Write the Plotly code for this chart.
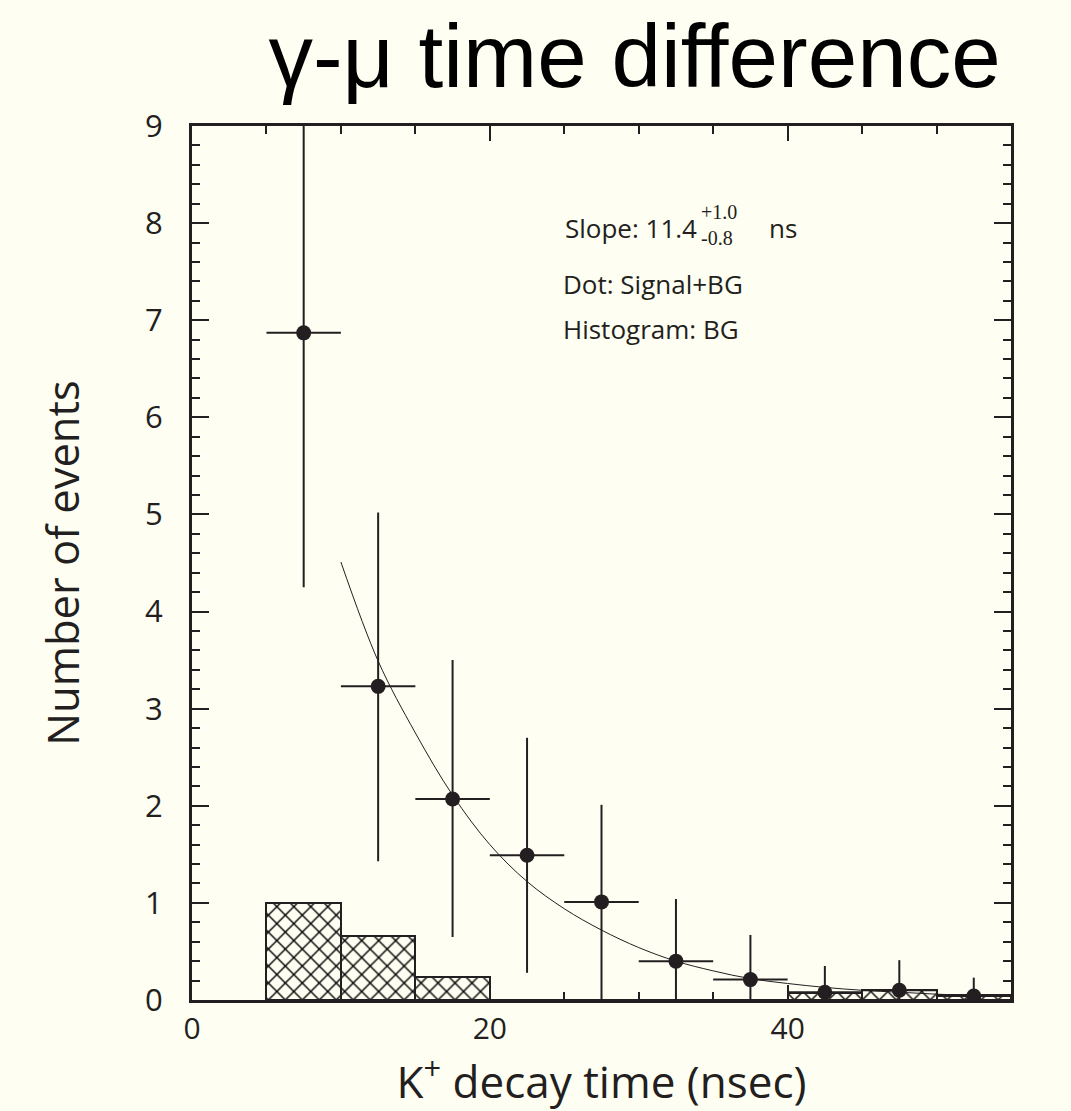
import plotly.graph_objects as go

# ---- data ----
bin_centers = [7.5, 12.5, 17.5, 22.5, 27.5, 32.5, 37.5, 42.5, 47.5, 52.5]
bin_half_width = [2.5] * 10
signal_bg = [6.87, 3.23, 2.07, 1.49, 1.01, 0.40, 0.21, 0.08, 0.10, 0.04]
err_up_end = [9.8, 5.02, 3.50, 2.70, 2.01, 1.04, 0.67, 0.35, 0.41, 0.23]
err_low_end = [4.25, 1.43, 0.65, 0.28, 0.0, 0.0, 0.0, 0.0, 0.0, 0.0]
bg_hist = [1.00, 0.66, 0.24, 0.0, 0.0, 0.0, 0.0, 0.075, 0.10, 0.05]

fit_x = [10, 12.5, 15, 17.5, 20, 22.5, 25, 27.5, 30, 32.5, 35, 37.5, 40,
         42.5, 45, 47.5, 50, 52.5, 55]
fit_y = [4.51, 3.49, 2.75, 2.11, 1.60, 1.22, 0.94, 0.72, 0.54, 0.40, 0.30,
         0.22, 0.17, 0.13, 0.10, 0.08, 0.06, 0.045, 0.035]

x_tickvals = [0, 20, 40]
y_tickvals = [0, 1, 2, 3, 4, 5, 6, 7, 8, 9]

err_plus = [u - v for u, v in zip(err_up_end, signal_bg)]
err_minus = [v - l for v, l in zip(signal_bg, err_low_end)]

INK = "#231f20"
BG = "#fefef2"
FONT = "Open Sans"

fig = go.Figure()

fig.add_trace(go.Bar(
    x=bin_centers, y=bg_hist, width=[5] * 10,
    marker=dict(color=BG, line=dict(color=INK, width=2),
                pattern=dict(shape="x", fgcolor="#000000", bgcolor=BG, fgopacity=1,
                             size=12, solidity=0.22, fillmode="replace")),
    showlegend=False, hoverinfo="skip",
))

fig.add_trace(go.Scatter(
    x=fit_x, y=fit_y, mode="lines", line=dict(color=INK, width=1, shape="spline"),
    showlegend=False, hoverinfo="skip",
))

fig.add_trace(go.Scatter(
    x=bin_centers, y=signal_bg, mode="markers",
    marker=dict(color=INK, size=15),
    error_y=dict(type="data", symmetric=False, array=err_plus, arrayminus=err_minus,
                 color=INK, thickness=2, width=0),
    error_x=dict(type="data", array=bin_half_width, color=INK, thickness=2, width=0),
    showlegend=False,
))

fig.update_layout(
    width=1071, height=1111,
    margin=dict(l=192, r=60, t=126, b=111),
    paper_bgcolor=BG, plot_bgcolor=BG,
    bargap=0,
    font=dict(family=FONT, color=INK),
    title=dict(text="γ-μ time difference", x=0.5925, xanchor="center",
               y=0.950, yanchor="middle",
               font=dict(family="Liberation Sans", size=89, color="#000000")),
)

fig.update_xaxes(
    range=[0, 55], tickvals=x_tickvals, ticks="inside", ticklen=15, tickwidth=2,
    tickcolor=INK, showline=True, linewidth=3, linecolor=INK, mirror="ticks",
    showgrid=False, zeroline=False,
    minor=dict(dtick=5, tick0=0, ticks="inside", ticklen=8, tickwidth=2, tickcolor=INK),
    tickfont=dict(size=30, family=FONT, color=INK),
    title=dict(text="K<sup>+</sup> decay time (nsec)", font=dict(size=44, family=FONT, color=INK),
               standoff=12),
)
fig.update_yaxes(
    range=[0, 9], tickvals=y_tickvals, ticks="inside", ticklen=17, tickwidth=2,
    tickcolor=INK, showline=True, linewidth=3, linecolor=INK, mirror="ticks",
    showgrid=False, zeroline=False,
    minor=dict(dtick=0.2, tick0=0, ticks="inside", ticklen=8, tickwidth=2, tickcolor=INK),
    tickfont=dict(size=31, family=FONT, color=INK),
    ticklabelstandoff=20,
    title=dict(text="Number of events", font=dict(size=43.5, family=FONT, color=INK),
               standoff=52),
)

ann_font = dict(family=FONT, size=26, color=INK)
serif = dict(family="Liberation Serif", size=20, color=INK)
anns = [
    dict(text="Slope: 11.4", px=563, py=228, font=ann_font),
    dict(text="+1.0", px=699, py=212, font=serif),
    dict(text="-0.8", px=699, py=238, font=serif),
    dict(text="ns", px=767, py=228, font=ann_font),
    dict(text="Dot: Signal+BG", px=561, py=284, font=ann_font),
    dict(text="Histogram: BG", px=561, py=329, font=ann_font),
]
L, R, T, B = 192, 1011, 126, 1000
for a in anns:
    fig.add_annotation(
        x=(a["px"] - L) / (R - L), y=1 - (a["py"] - T) / (B - T),
        xref="x domain", yref="y domain", text=a["text"], showarrow=False,
        xanchor="left", yanchor="middle", font=a["font"],
    )

fig.write_html("out.html")
